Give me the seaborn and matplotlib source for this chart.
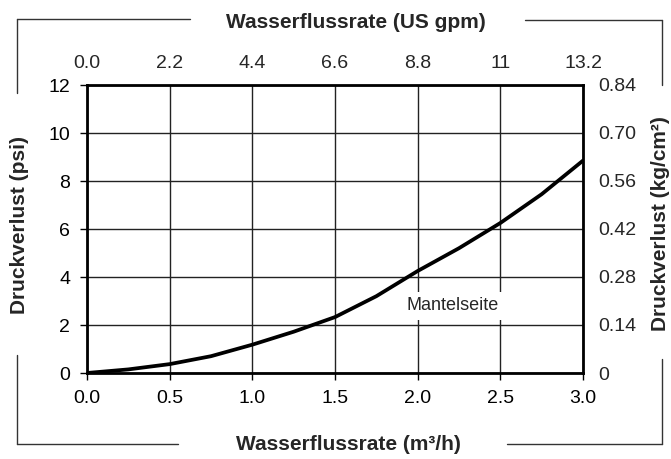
import matplotlib.pyplot as plt
import seaborn as sns
import pandas as pd
from matplotlib.lines import Line2D

# Werte
flow_m3h = [0.0, 0.25, 0.5, 0.75, 1.0, 1.25, 1.5, 1.75, 2.0, 2.25, 2.5, 2.75, 3.0]
pressure_psi = [0.0, 0.15, 0.37, 0.7, 1.18, 1.72, 2.33, 3.2, 4.25, 5.2, 6.25, 7.45, 8.85]

flow_ticks = [0.0, 0.5, 1.0, 1.5, 2.0, 2.5, 3.0]
flow_labels = ["0.0", "0.5", "1.0", "1.5", "2.0", "2.5", "3.0"]
gpm_labels = ["0.0", "2.2", "4.4", "6.6", "8.8", "11", "13.2"]
psi_ticks = [0, 2, 4, 6, 8, 10, 12]
kg_labels = ["0", "0.14", "0.28", "0.42", "0.56", "0.70", "0.84"]

W, H = 671, 459

sns.set_style("white")
plt.rcParams["font.family"] = ["Liberation Sans", "DejaVu Sans"]

df = pd.DataFrame({"flow": flow_m3h, "psi": pressure_psi})

fig = plt.figure(figsize=(W / 100, H / 100), dpi=100)
ax = fig.add_axes([87 / W, 1 - 373 / H, (583 - 87) / W, (373 - 85) / H])

sns.lineplot(data=df, x="flow", y="psi", ax=ax, color="black", linewidth=2.7)

ax.set_xlim(0, 3.0)
ax.set_ylim(0, 12)
ax.set_xticks(flow_ticks)
ax.set_xticklabels(flow_labels)
ax.set_yticks(psi_ticks)
ax.set_xlabel("")
ax.set_ylabel("")
ax.grid(True, color="#222222", linewidth=1)
ax.tick_params(axis="both", direction="out", length=5, width=1, color="black",
               labelsize=14, colors="black")
ax.tick_params(axis="x", pad=7)
ax.tick_params(axis="y", pad=7)
for sp in ax.spines.values():
    sp.set_color("black")
    sp.set_linewidth(2)

ax.text(2.21, 2.8, "Mantelseite", fontsize=13, ha="center", va="center",
        bbox=dict(facecolor="white", edgecolor="none", pad=4))

# rechte Achse: kg/cm2
ax_r = ax.twinx()
ax_r.set_ylim(0, float(kg_labels[-1]))
ax_r.set_yticks([float(v) for v in kg_labels])
ax_r.set_yticklabels(kg_labels)
ax_r.tick_params(axis="y", length=0, pad=11, labelsize=14)

# obere Achse: US gpm
ax_t = ax.twiny()
ax_t.set_xlim(ax.get_xlim())
ax_t.set_xticks(flow_ticks)
ax_t.set_xticklabels(gpm_labels)
ax_t.tick_params(axis="x", length=0, pad=9, labelsize=14)

for a in (ax_r, ax_t):
    for sp in a.spines.values():
        sp.set_visible(False)

lab_kw = dict(fontsize=15, fontweight="bold", ha="center", va="center")
fig.text(356 / W, 1 - 22 / H, "Wasserflussrate (US gpm)", **lab_kw)
fig.text(348 / W, 1 - 444 / H, "Wasserflussrate (m³/h)", **lab_kw)
fig.text(20 / W, 1 - 225 / H, "Druckverlust (psi)", rotation=90, **lab_kw)
fig.text(661 / W, 1 - 224 / H, "Druckverlust (kg/cm²)", rotation=90, **lab_kw)

# Rahmenlinien um das Diagramm
frame = [
    ((17, 19), (190, 19)), ((17, 19), (17, 93)),
    ((525, 20), (662, 20)), ((662, 20), (662, 85)),
    ((17, 355), (17, 444)), ((17, 444), (178, 444)),
    ((507, 444), (662, 444)), ((662, 359), (662, 444)),
]
for (x0, y0), (x1, y1) in frame:
    fig.add_artist(Line2D([x0 / W, x1 / W], [1 - y0 / H, 1 - y1 / H],
                          transform=fig.transFigure, color="#333333", linewidth=1))

fig.savefig("out.png", dpi=100)
